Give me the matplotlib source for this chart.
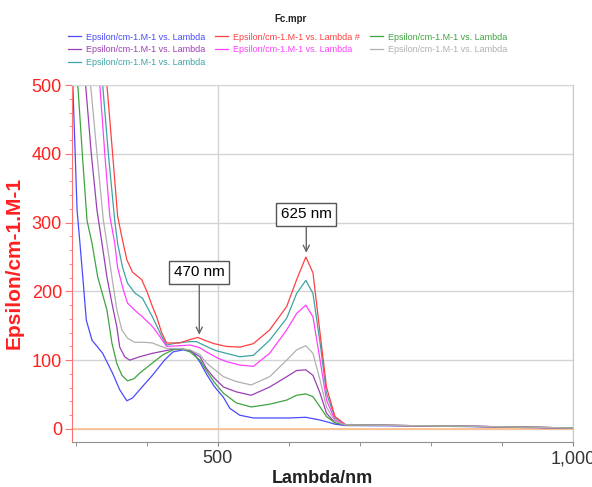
import matplotlib
matplotlib.use("Agg")
import matplotlib.pyplot as plt
from matplotlib.ticker import MultipleLocator, FuncFormatter

plt.rcParams['font.family'] = ['Liberation Sans', 'DejaVu Sans']

# spectra (wavelength nm, epsilon)
wl_blue = [288, 296, 302, 306, 310, 315, 323, 331, 338, 352, 362, 372, 380, 390, 408, 425, 437, 451, 465, 475, 484, 495, 508, 517, 531, 550, 575, 600, 624, 644, 655, 665, 680, 760, 850, 940, 1000]
eps_blue = [800, 500, 318, 270, 221, 158, 129, 119, 110, 81, 57, 41, 45, 57, 78, 100, 112, 115, 112, 97, 80, 62, 46, 30, 20, 16, 16, 16, 17, 13, 10, 7, 5, 4.5, 3.5, 2, 1.5]

wl_green = [292, 303, 310, 316, 323, 331, 344, 351, 358, 365, 373, 382, 390, 408, 423, 437, 450, 461, 475, 484, 495, 508, 526, 547, 573, 597, 611, 624, 634, 644, 653, 665, 680, 760, 850, 940, 1000]
eps_green = [800, 500, 390, 303, 270, 221, 173, 125, 95, 78, 70, 73, 81, 96, 108, 115, 117, 112, 100, 85, 68, 52, 38, 32, 36, 42, 49, 51, 47, 32, 18, 9, 6, 5, 4, 2.5, 1.5]

wl_purple = [305, 314, 322, 330, 337, 344, 351, 358, 362, 369, 376, 390, 408, 437, 451, 461, 475, 484, 495, 508, 526, 547, 573, 597, 611, 624, 634, 644, 653, 665, 680, 760, 850, 940, 1000]
eps_purple = [800, 500, 400, 318, 270, 221, 183, 148, 119, 105, 100, 105, 110, 116, 116, 114, 105, 88, 74, 61, 54, 49, 61, 76, 85, 86, 78, 52, 23, 9, 6, 5, 4, 2.5, 1.5]

wl_gray = [310, 321, 330, 339, 344, 351, 358, 365, 373, 383, 397, 408, 428, 446, 461, 475, 484, 496, 508, 526, 547, 573, 597, 611, 624, 634, 644, 653, 665, 680, 760, 850, 940, 1000]
eps_gray = [800, 500, 400, 303, 270, 221, 173, 144, 132, 126, 126, 125, 117, 117, 115, 108, 96, 86, 76, 69, 64, 76, 100, 115, 121, 110, 71, 32, 11, 6, 5, 4, 2.5, 1.5]

wl_magenta = [325, 334, 341, 348, 355, 359, 366, 373, 386, 394, 408, 418, 428, 446, 461, 475, 484, 500, 512, 531, 550, 573, 597, 611, 624, 634, 644, 653, 665, 680, 760, 850, 940, 1000]
eps_magenta = [800, 500, 400, 310, 270, 235, 206, 183, 170, 163, 149, 135, 120, 121, 122, 118, 112, 103, 98, 93, 91, 110, 144, 168, 180, 163, 100, 42, 13, 6, 5, 4, 2.5, 1.5]

wl_teal = [330, 338, 346, 355, 359, 366, 373, 383, 394, 408, 421, 428, 442, 461, 470, 484, 497, 512, 531, 550, 573, 597, 611, 624, 634, 644, 653, 665, 680, 760, 850, 940, 1000]
eps_teal = [800, 500, 400, 303, 270, 235, 212, 198, 190, 163, 135, 122, 125, 127, 127, 120, 114, 110, 105, 107, 129, 161, 197, 216, 197, 125, 52, 16, 6, 5, 4, 2.5, 1.5]

wl_red = [335, 344, 352, 359, 365, 372, 380, 393, 401, 408, 414, 421, 428, 446, 461, 472, 484, 495, 512, 531, 550, 573, 597, 611, 624, 634, 644, 653, 665, 680, 760, 850, 940, 1000]
eps_red = [800, 500, 400, 310, 279, 246, 228, 217, 198, 178, 163, 140, 125, 125, 130, 133, 128, 124, 120, 119, 124, 144, 178, 217, 250, 227, 139, 61, 18, 6, 5, 4, 2.5, 1.5]

label = "Epsilon/cm-1.M-1 vs. Lambda"

fig = plt.figure(figsize=(5.92, 4.87), dpi=100)
ax = fig.add_axes([0.1211, 0.093, 0.8468, 0.7324])

# legend order: column by column
series = [
    (wl_blue, eps_blue, '#4a4aff', label),
    (wl_purple, eps_purple, '#9b3fb5', label),
    (wl_teal, eps_teal, '#3fa3a3', label),
    (wl_red, eps_red, '#ff4040', label + " #"),
    (wl_magenta, eps_magenta, '#ff40ff', label),
    (wl_green, eps_green, '#3fa33f', label),
    (wl_gray, eps_gray, '#b0b0b0', label),
]
ax.axhline(0, color='#ffc090', lw=1.3, zorder=1)
for wl, eps, c, lab in series:
    ax.plot(wl, eps, color=c, lw=0.9, label=lab, zorder=2)

ax.set_xlim(294.4, 1000)
ax.set_ylim(-18.5, 500)

ax.xaxis.set_major_locator(MultipleLocator(500))
ax.xaxis.set_minor_locator(MultipleLocator(100))
ax.xaxis.set_major_formatter(FuncFormatter(lambda v, p: f"{int(v):,}"))
ax.yaxis.set_major_locator(MultipleLocator(100))
ax.yaxis.set_minor_locator(MultipleLocator(20))

ax.grid(True, which='major', color='#d4d4d4', lw=1)
ax.set_axisbelow(True)

ax.spines['left'].set_color('#ff7070')
ax.spines['bottom'].set_color('#909090')
ax.spines['right'].set_color('#c8c8c8')
ax.spines['top'].set_color('#d4d4d4')

ax.tick_params(axis='y', which='major', colors='#ff7070', labelcolor='#ff2020', labelsize=13, length=5, pad=2)
ax.tick_params(axis='y', which='minor', colors='#ff7070', length=2)
ax.tick_params(axis='x', which='both', colors='#808080', labelcolor='#333333', labelsize=13, length=3, pad=3)

ax.set_ylabel("Epsilon/cm-1.M-1", color='#ff2020', fontsize=15, fontweight='bold', labelpad=6)
ax.set_xlabel("Lambda/nm", color='#222222', fontsize=13, fontweight='bold', labelpad=2)

box = dict(boxstyle='square,pad=0.3', fc='white', ec='#555555', lw=1)
arrow = dict(arrowstyle='->', color='#666666', lw=1, shrinkA=0, shrinkB=0)
ax.annotate("470 nm", xy=(474, 137), xytext=(474, 228), fontsize=11, ha='center', va='center',
            bbox=box, arrowprops=arrow)
ax.annotate("625 nm", xy=(624.6, 256), xytext=(624.6, 312), fontsize=11, ha='center', va='center',
            bbox=box, arrowprops=arrow)

fig.text(0.49, 0.961, "Fc.mpr", fontsize=7, fontweight='bold', ha='center', va='center', color='#222222')
fig.legend(loc='upper center', bbox_to_anchor=(0.486, 0.946), ncol=3, frameon=False,
           fontsize=6.5, labelcolor='linecolor', handlelength=1.4, handletextpad=0.6,
           columnspacing=1.1, labelspacing=0.4, borderpad=0.2)

fig.savefig("out.png", dpi=100)
